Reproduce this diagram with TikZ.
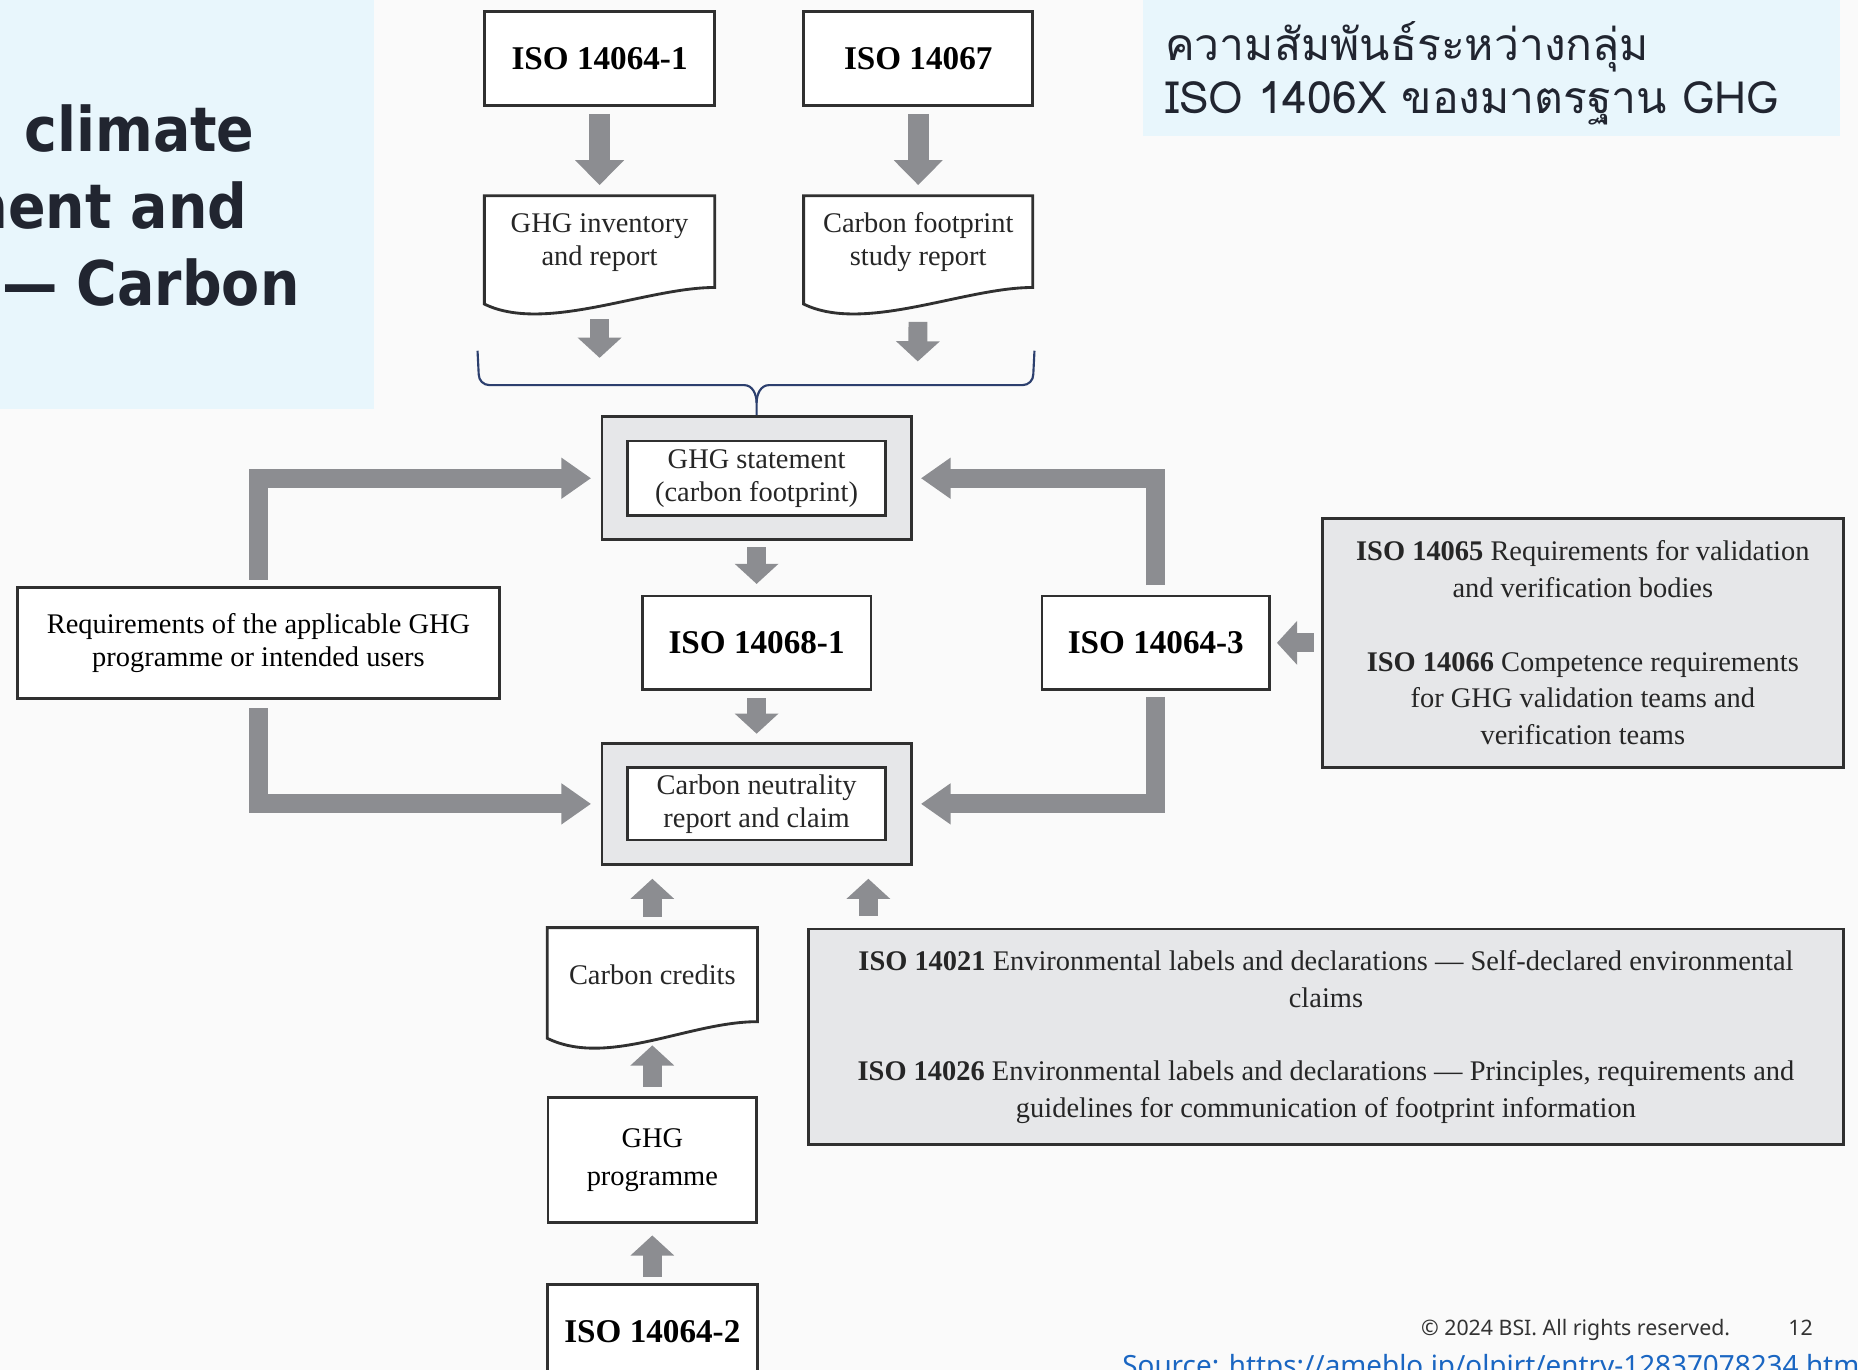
\documentclass[tikz,border=0pt]{standalone}
\usepackage{fontspec}
\setmainfont{Liberation Serif}
\newfontfamily\headfont{DejaVu Sans Condensed}
\newfontfamily\thaifont[Script=Thai]{Loma}
\newfontfamily\footfont{Noto Sans}
\usetikzlibrary{positioning,calc,arrows.meta,backgrounds}

\definecolor{pagebg}{HTML}{FAFAFA}
\definecolor{panelblue}{HTML}{E8F6FC}
\definecolor{headtext}{HTML}{212530}
\definecolor{arrgray}{HTML}{8C8D91}
\definecolor{boxgray}{HTML}{E6E7E9}
\definecolor{boxline}{HTML}{303030}
\definecolor{bracecol}{HTML}{2C3F6E}
\definecolor{linkblue}{HTML}{1A66C2}

\begin{document}
\begin{tikzpicture}[x=1pt, y=-1pt,
    txt/.style = {font=\fontsize{24}{28}\selectfont, align=center, text=black!85},
    isobox/.style = {draw=boxline, line width=2.4pt, fill=white, minimum width=194pt, minimum height=79pt, font=\fontsize{28}{32}\selectfont\bfseries},
    docbox/.style = {txt, minimum width=194pt, minimum height=78pt, inner sep=0pt},
    docline/.style = {draw=boxline, line width=2.4pt, fill=white},
    outerbox/.style = {draw=boxline, line width=2.4pt, fill=boxgray, minimum width=261pt, minimum height=104pt},
    innerbox/.style = {txt, draw=boxline, line width=2.4pt, fill=white, minimum width=218pt, minimum height=63pt, inner sep=0pt},
    greybox/.style = {draw=boxline, line width=2.4pt, fill=boxgray, font=\fontsize{24}{31}\selectfont, align=center, text=black!85},
    bigarr/.style = {draw=arrgray, line width=18pt, -{Triangle[width=40pt,length=21pt]}},
    smallarr/.style = {draw=arrgray, line width=16pt, -{Triangle[width=36pt,length=17pt]}},
    elbarr/.style = {draw=arrgray, line width=16pt, -{Triangle[width=33pt,length=25pt]}},
    head/.style = {font=\headfont\bfseries\fontsize{52}{60}\selectfont, text=headtext, inner sep=0pt},
    thai/.style = {font=\thaifont\fontsize{37.5}{44}\selectfont, text=headtext, inner sep=0pt},
    foot/.style = {font=\footfont\fontsize{18}{22}\selectfont, text=black!80, inner sep=0pt}]

    \useasboundingbox (0,0) rectangle (1568,1156);
    \begin{pgfonlayer}{background}
        \fill[pagebg] (0,0) rectangle (1568,1156);
        \fill[panelblue] (0,0) rectangle (316,345);
        \fill[panelblue] (965,0) rectangle (1553,115);
    \end{pgfonlayer}

    % slide titles
    \begin{scope}
        \clip (0,0) rectangle (316,345);
        \node[head, anchor=base east] (head1) at (215,128) {climate};
        \node[head, anchor=base east] (head2) at (209,193) {ment and};
        \node[head, anchor=base east] (head3) at (253,257.5) {— Carbon};
    \end{scope}
    \node[thai, anchor=base west] (title1) at (983,51) {ความสัมพันธ์ระหว่างกลุ่ม};
    \node[thai, anchor=base west] (title2) at (983,95.5) {ISO 1406X ของมาตรฐาน GHG};

    % top row
    \node[isobox] (iso1) at (506,49.5) {ISO 14064-1};
    \node[isobox, minimum width=193pt] (iso67) [right=73pt of iso1] {ISO 14067};
    \node[docbox] (inv) [below=75pt of iso1] {GHG inventory\\and report};
    \node[docbox, minimum width=193pt] (cfp) [below=75pt of iso67] {Carbon footprint\\study report};

    % centre column
    \node[isobox, minimum width=193pt] (iso681) at (638.5,542.5) {ISO 14068-1};
    \node[outerbox] (stmt) [above=45pt of iso681] {};
    \node[innerbox] (stmtin) at (stmt) {GHG statement\\(carbon footprint)};
    \node[outerbox, minimum height=102pt] (neut) [below=43pt of iso681] {};
    \node[innerbox, minimum height=61pt] (neutin) at (neut) {Carbon neutrality\\report and claim};

    \node[isobox, minimum width=407pt, minimum height=94pt, font=\fontsize{24}{28}\selectfont, align=center] (req) [left=118pt of iso681] {Requirements of the applicable GHG\\programme or intended users};
    \node[isobox, minimum width=192pt] (iso643) [right=142pt of iso681] {ISO 14064-3};
    \node[greybox, minimum width=440pt, minimum height=210pt] (valbox) [right=42pt of iso643] {\textbf{ISO 14065} Requirements for validation\\and verification bodies\\[31pt]\textbf{ISO 14066} Competence requirements\\for GHG validation teams and\\verification teams};

    % bottom column
    \node[docbox, minimum width=177pt, minimum height=80pt] (cred) at (550.5,823) {Carbon credits};
    \node[isobox, minimum width=176pt, minimum height=105pt, font=\fontsize{24}{32}\selectfont, align=center] (prog) [below=62pt of cred] {GHG\\programme};
    \node[isobox, minimum width=177pt, minimum height=80pt] (iso642) [below=50pt of prog] {ISO 14064-2};
    \node[greybox, minimum width=874pt, minimum height=182pt] (envbox) at (1119,875) {\textbf{ISO 14021} Environmental labels and declarations — Self-declared environmental\\claims\\[31pt]\textbf{ISO 14026} Environmental labels and declarations — Principles, requirements and\\guidelines for communication of footprint information};

    % document outlines
    \begin{pgfonlayer}{background}
        \foreach \d in {inv,cfp,cred}
            \draw[docline] (\d.north west) -- (\d.north east) -- ($(\d.south east)+(0,-1)$)
                .. controls +(-58,0) and +(51,25) .. ($(\d.south west)+(0,13)$) -- cycle;
    \end{pgfonlayer}

    % brace
    \coordinate (bl) at (506,302);
    \coordinate (br) at (774.5,305);
    \coordinate (bracetip) at (638.5,340);
    \draw[bracecol, line width=1.8pt] (403,296) -- (404,316) to[out=-90,in=180] (413,325) -- (628,325) to[out=0,in=90] (bracetip) -- (stmt.north);
    \draw[bracecol, line width=1.8pt] (873,296) -- (872,316) to[out=-90,in=0] (863,325) -- (649,325) to[out=180,in=90] (bracetip);

    % arrows
    \draw[bigarr, shorten <=6pt, shorten >=9pt] (iso1) -- (inv);
    \draw[bigarr, shorten <=6pt, shorten >=9pt] (iso67) -- (cfp);
    \draw[smallarr, shorten <=26pt] (inv.south) -- (bl);
    \draw[smallarr, shorten <=28pt] (cfp.south) -- (br);
    \draw[smallarr, shorten <=5pt, shorten >=9pt] (stmt) -- (iso681);
    \draw[smallarr, shorten <=6pt, shorten >=7pt] (iso681) -- (neut);

    \draw[elbarr, shorten <=5pt, shorten >=8pt] (req.north) |- (stmt.west);
    \draw[elbarr, shorten <=7pt, shorten >=8pt] (req.south) |- (neut.west);
    \draw[elbarr, shorten <=8pt, shorten >=7pt] (iso643.north) |- (stmt.east);
    \draw[elbarr, shorten <=5pt, shorten >=7pt] (iso643.south) |- (neut.east);
    \draw[smallarr, shorten <=6pt, shorten >=5pt] (valbox.west) -- (iso643.east);

    \coordinate (envtop) at ([xshift=52pt]envbox.north west);
    \draw[smallarr, shorten <=9pt, shorten >=11pt] (cred.north) -- (cred.north |- neut.south);
    \draw[smallarr, shorten <=10pt, shorten >=11pt] (envtop) -- (envtop |- neut.south);
    \draw[smallarr, shorten <=8pt, shorten >=19pt] (prog.north) -- (cred.south);
    \draw[smallarr, shorten <=5pt, shorten >=10pt] (iso642.north) -- (prog.south);

    % footer
    \node[foot, anchor=base west] (copy) at (1199,1127) {© 2024 BSI. All rights reserved.};
    \node[foot, anchor=base east] (pagenum) at (1530,1127) {12};
    \node[anchor=base west, font=\footfont\fontsize{23.5}{28}\selectfont, text=linkblue, inner sep=0pt] (src) at (947,1161) {Source: https://ameblo.jp/olpirt/entry-12837078234.html};

\end{tikzpicture}
\end{document}
